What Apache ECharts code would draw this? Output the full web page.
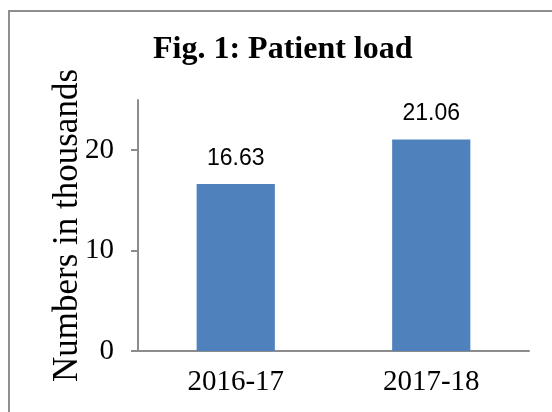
<!DOCTYPE html>
<html>
<head>
<meta charset="UTF-8">
<title>Patient load</title>
<script src="https://cdn.jsdelivr.net/npm/echarts@6/dist/echarts.min.js"></script>
<style>
    html,body
    {
        height:100%;
        margin:0;
        width:100%;
        background:#fff;
        overflow:hidden;
    }
    #frame
    {
        position:absolute;
        left:8px;
        top:10px;
        width:700px;
        height:600px;
        border-left:2px solid #8f8f8f;
        border-top:2px solid #8f8f8f;
    }
    #chart
    {
        position:absolute;
        left:0;
        top:0;
        width:552px;
        height:412px;
    }
</style>
</head>
<body>
<div id="frame"></div>
<div id="chart"></div>
<script>
var years = ['2016-17', '2017-18'];
var patients = [16.63, 21.06];
var yTicks = [0, 10, 20];

var chart = echarts.init(document.getElementById('chart'));
var serif = '"Liberation Serif", "Times New Roman", serif';

chart.setOption({
    animation: false,
    title: {
        text: 'Fig. 1: Patient load',
        left: 153,
        top: 34,
        padding: 0,
        textStyle: {
            fontFamily: serif,
            fontWeight: 'bold',
            fontSize: 32,
            color: '#000'
        }
    },
    grid: {
        left: 138,
        right: 23,
        top: 100,
        bottom: 61
    },
    xAxis: {
        type: 'category',
        data: years,
        axisLine: { lineStyle: { color: '#8c8c8c', width: 2 } },
        axisTick: { length: 8, lineStyle: { color: '#8c8c8c', width: 2 } },
        axisLabel: {
            margin: 17,
            fontFamily: serif,
            fontSize: 29,
            color: '#000'
        }
    },
    yAxis: {
        type: 'value',
        min: 0,
        max: 25,
        interval: 10,
        name: 'Numbers in thousands',
        nameLocation: 'middle',
        nameGap: 53,
        nameMoveOverlap: false,
        nameTextStyle: {
            fontFamily: serif,
            fontSize: 35,
            color: '#000'
        },
        axisLine: { show: true, lineStyle: { color: '#8c8c8c', width: 2 } },
        axisTick: { show: true, length: 7, customValues: yTicks, lineStyle: { color: '#8c8c8c', width: 2 } },
        axisLabel: {
            customValues: yTicks,
            margin: 24,
            fontFamily: serif,
            fontSize: 29,
            color: '#000'
        },
        splitLine: { show: false }
    },
    series: [{
        type: 'bar',
        data: patients,
        barWidth: '40%',
        itemStyle: { color: '#4f81bd' },
        label: {
            show: true,
            position: 'top',
            distance: 14,
            formatter: function (p) { return p.value.toFixed(2); },
            fontFamily: '"Liberation Sans", Arial, sans-serif',
            fontSize: 23,
            color: '#000'
        }
    }]
});
</script>
</body>
</html>
